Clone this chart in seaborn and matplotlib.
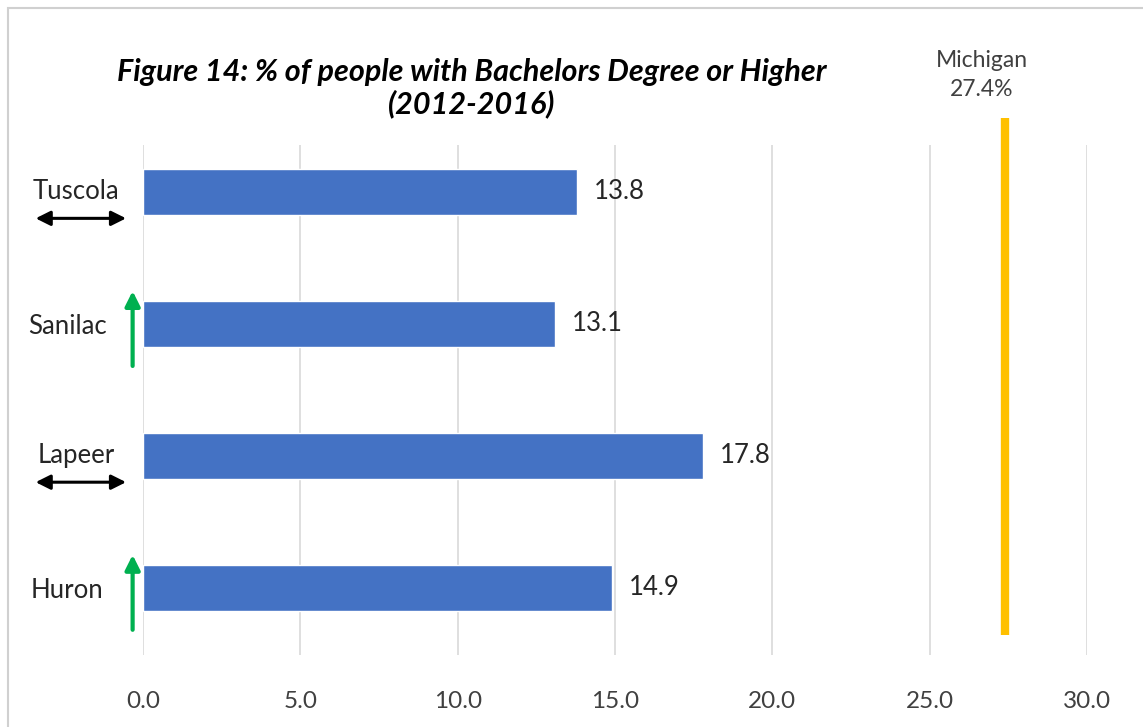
import matplotlib
matplotlib.use("Agg")
import matplotlib.pyplot as plt
import matplotlib.patches as mpatches
import pandas as pd
import seaborn as sns

# data
counties = ["Tuscola", "Sanilac", "Lapeer", "Huron"]
pct_bachelors = [13.8, 13.1, 17.8, 14.9]
trend = ["flat", "up", "flat", "up"]
michigan_pct = 27.4
x_ticks = [0, 5, 10, 15, 20, 25, 30]

df = pd.DataFrame({"county": counties, "pct": pct_bachelors})

sns.set_theme(style="white")
plt.rcParams["font.family"] = ["Lato", "DejaVu Sans"]

fig = plt.figure(figsize=(11.43, 7.27), dpi=100)
ax = fig.add_axes([143 / 1143, 1 - 655 / 727, (1087 - 143) / 1143, (655 - 145) / 727])

# light frame around the chart area
fig.patches.append(mpatches.Rectangle((8 / 1143, -0.01), 1.0, 1 - 8 / 727 + 0.01,
                                      transform=fig.transFigure, fill=False,
                                      edgecolor="#d0d0d0", lw=1.5))

sns.barplot(data=df, x="pct", y="county", order=counties, color="#4472C4",
            width=0.35, saturation=1, ax=ax, zorder=3)

ax.set_xlim(0, 30)
ax.set_ylim(3.51, -0.356)
ax.set_xticks(x_ticks)
ax.set_xticklabels([f"{t:.1f}" for t in x_ticks], fontsize=17.5, color="#404040")
ax.tick_params(axis="x", length=0, pad=26)
ax.set_yticks([])
ax.set_xlabel("")
ax.set_ylabel("")
ax.grid(axis="x", color="#d9d9d9", lw=1.2, zorder=0)
for s in ax.spines.values():
    s.set_visible(False)

# value labels
for i, v in enumerate(pct_bachelors):
    ax.annotate(f"{v:.1f}", (v, i), xytext=(12, 0), textcoords="offset points",
                va="center", ha="left", fontsize=18.5, color="#262626")

# Michigan reference line
ax.plot([michigan_pct, michigan_pct], [-0.56, 3.36], color="#FFC000", lw=6,
        solid_capstyle="butt", clip_on=False, zorder=4)
ax.text(michigan_pct - 0.75, -0.7, f"Michigan\n{michigan_pct}%", ha="center", va="bottom",
        fontsize=16.5, color="#404040", linespacing=1.45)

# county names and trend arrows
for i, (name, t) in enumerate(zip(counties, trend)):
    if t == "flat":
        ax.text(-2.13, i, name, ha="center", va="center", fontsize=18.5,
                color="#262626", clip_on=False)
        ax.annotate("", xy=(-3.5, i + 0.2), xytext=(-0.45, i + 0.2),
                    arrowprops=dict(arrowstyle="<|-|>", color="black", lw=2.2,
                                    mutation_scale=22), annotation_clip=False)
    else:
        ax.text(-2.4, i + 0.02, name, ha="center", va="center", fontsize=18.5,
                color="#262626", clip_on=False)
        ax.annotate("", xy=(-0.33, i - 0.27), xytext=(-0.33, i + 0.34),
                    arrowprops=dict(arrowstyle="-|>", color="#00B050", lw=3,
                                    mutation_scale=22), annotation_clip=False)

fig.text(472 / 1143, 1 - 88 / 727,
         "Figure 14: % of people with Bachelors Degree or Higher\n(2012-2016)",
         ha="center", va="center", fontsize=22, fontweight="bold", fontstyle="italic",
         color="black", linespacing=1.15)

fig.savefig("out.png", dpi=100)
